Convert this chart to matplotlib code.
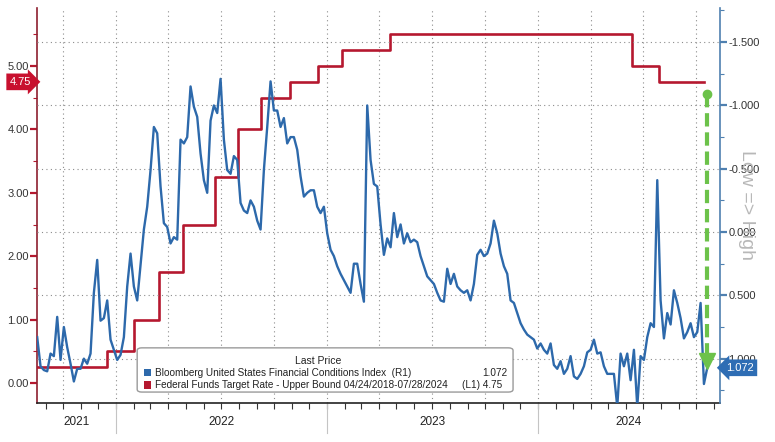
import numpy as np
import pandas as pd
import matplotlib
matplotlib.use('Agg')
import matplotlib.pyplot as plt
import matplotlib.dates as mdates
import matplotlib.transforms as mtransforms
from matplotlib.patches import FancyBboxPatch, Rectangle
from matplotlib.ticker import FixedLocator, MultipleLocator, NullFormatter, FormatStrFormatter

plt.rcParams['font.family'] = ['Liberation Sans', 'DejaVu Sans']

# Bloomberg US Financial Conditions Index (right axis, inverted), sampled off the chart
fci_dates = pd.date_range('2021-08-17', '2024-10-20', periods=202)
fci_2021 = [0.83, 1.06, 1.09, 1.10, 0.96, 0.98, 0.67, 1.01, 0.75, 0.91,
            1.04, 1.18, 1.08, 1.08, 1.00, 1.04, 0.96, 0.48, 0.22, 0.70,
            0.68, 0.54, 0.85, 0.93, 1.01, 0.97, 0.83, 0.43, 0.17, 0.43,
            0.54, 0.26, -0.02, -0.20, -0.49, -0.83, -0.78, -0.36, -0.07, -0.04,
            0.09, 0.04, 0.06, -0.73, -0.70, -0.75, -1.15, -0.99, -0.91]
fci_2022 = [-0.62, -0.41, -0.31, -0.88, -1.00, -0.94, -1.21, -0.73, -0.49, -0.46,
            -0.60, -0.57, -0.23, -0.17, -0.15, -0.25, -0.20, -0.09, -0.02, -0.49,
            -0.83, -1.19, -0.96, -0.96, -0.83, -0.90, -0.70, -0.75, -0.75, -0.65,
            -0.44, -0.28, -0.31, -0.33, -0.33, -0.20, -0.15, -0.20, 0.01, 0.14,
            0.19, 0.27, 0.33, 0.38, 0.43, 0.48, 0.25, 0.25, 0.41, 0.55,
            -1.00]
fci_2023 = [-0.57, -0.38, -0.36, -0.06, 0.18, 0.05, 0.12, -0.15, 0.04, -0.06,
            0.09, 0.01, 0.08, 0.06, 0.08, 0.19, 0.27, 0.35, 0.38, 0.41,
            0.48, 0.54, 0.55, 0.29, 0.41, 0.33, 0.43, 0.46, 0.48, 0.46,
            0.54, 0.41, 0.18, 0.14, 0.19, 0.17, 0.09, -0.09, 0.01, 0.17,
            0.27, 0.33, 0.54, 0.56, 0.64, 0.72, 0.77, 0.81, 0.83, 0.85,
            0.92]
fci_2024 = [0.88, 0.93, 0.96, 0.88, 1.05, 1.08, 1.02, 1.12, 1.08, 0.98,
            1.14, 1.16, 1.12, 1.06, 0.95, 0.93, 0.85, 0.96, 0.95, 1.06,
            1.12, 1.12, 1.12, 1.38, 0.96, 1.06, 0.96, 1.17, 0.93, 1.38,
            0.98, 1.01, 0.83, 0.72, 0.75, -0.41, 0.54, 0.84, 0.64, 0.73,
            0.46, 0.56, 0.68, 0.84, 0.79, 0.72, 0.83, 0.79, 0.56, 1.20,
            1.072]
fci_values = fci_2021 + fci_2022 + fci_2023 + fci_2024

# Fed funds target rate upper bound (left axis), step changes
fed_dates = pd.to_datetime(['2021-08-17', '2021-12-15', '2022-02-01', '2022-03-15',
                            '2022-04-26', '2022-06-21', '2022-07-30', '2022-09-08',
                            '2022-10-29', '2022-12-16', '2023-01-27', '2023-04-20',
                            '2024-06-11', '2024-07-29', '2024-10-15'])
fed_values = [0.25, 0.50, 1.00, 1.75, 2.50, 3.25, 4.00, 4.50, 4.75, 5.00, 5.25, 5.50,
              5.00, 4.75, 4.75]

years = [2021, 2022, 2023, 2024]
left_ticks = [0, 1, 2, 3, 4, 5]
right_ticks = [-1.5, -1.0, -0.5, 0.0, 0.5, 1.0]
arrow_date = pd.Timestamp('2024-10-19')
arrow_top = -1.09

BLUE = '#2d69ab'
RED = '#b5182f'
GREEN = '#6cc24a'
GRID = '#8c8c8c'
LEG_FS = 7.2

fig = plt.figure(figsize=(7.75, 4.42), dpi=100)
ax1 = fig.add_axes([0.048, 0.088, 0.881, 0.894])
ax2 = ax1.twinx()

xmin, xmax = pd.Timestamp('2021-08-17'), pd.Timestamp('2024-11-11')
ax1.set_xlim(xmin, xmax)
ax1.set_ylim(-0.315, 5.915)
ax2.set_ylim(1.351, -1.77)

ax1.step(fed_dates, fed_values, where='post', color=RED, lw=1.9, zorder=3)
ax2.plot(fci_dates, fci_values, color=BLUE, lw=1.7, zorder=3)

# grids
ax1.xaxis.set_major_locator(mdates.MonthLocator(bymonth=[1, 4, 7, 10]))
ax1.xaxis.set_minor_locator(mdates.MonthLocator())
ax1.xaxis.set_major_formatter(NullFormatter())
ax1.grid(axis='x', which='major', ls=(0, (1, 3)), color=GRID, lw=0.8)
ax2.grid(axis='y', which='major', ls=(0, (1, 3)), color=GRID, lw=0.8)
ax1.tick_params(axis='x', which='both', length=4, width=0.8, color='#333333', direction='out')

for s in ['top', 'right']:
    ax1.spines[s].set_visible(False)
for s in ['top', 'left', 'bottom']:
    ax2.spines[s].set_visible(False)
ax1.spines['left'].set_color('#8e1f2f')
ax1.spines['left'].set_linewidth(1.2)
ax1.spines['bottom'].set_color('#222222')
ax1.spines['bottom'].set_linewidth(1.2)
ax2.spines['right'].set_color('#4f80b0')
ax2.spines['right'].set_linewidth(1.2)

ax1.yaxis.set_major_locator(FixedLocator(left_ticks))
ax1.yaxis.set_minor_locator(MultipleLocator(0.5))
ax1.yaxis.set_major_formatter(FormatStrFormatter('%.2f'))
ax1.tick_params(axis='y', which='major', length=5, width=1.6, color=RED, labelsize=8, labelcolor='#333333', pad=1)
ax1.tick_params(axis='y', which='minor', length=3, width=0.8, color=RED)

ax2.yaxis.set_major_locator(FixedLocator(right_ticks))
ax2.yaxis.set_minor_locator(MultipleLocator(0.25))
ax2.yaxis.set_major_formatter(FormatStrFormatter('%.3f'))
ax2.tick_params(axis='y', which='major', length=5, width=1.6, color='#4f80b0', labelsize=8, labelcolor='#333333', pad=1)
ax2.tick_params(axis='y', which='minor', length=3, width=0.8, color='#4f80b0')

# year labels under the axis
trans = mtransforms.blended_transform_factory(ax1.transData, ax1.transAxes)
for yr in years[1:]:
    xd = mdates.date2num(pd.Timestamp(f'{yr}-01-01'))
    ax1.plot([xd, xd], [0, -0.075], transform=trans, color='#c4c4c4', lw=0.8, clip_on=False)
for yr in years:
    a = max(pd.Timestamp(f'{yr}-01-01'), xmin)
    b = min(pd.Timestamp(f'{yr + 1}-01-01'), xmax)
    mid = mdates.date2num(a) + (mdates.date2num(b) - mdates.date2num(a)) / 2
    ax1.text(mid, -0.048, str(yr), transform=trans, ha='center', va='center', fontsize=8.5, color='#222222')

# green arrow
ax2.plot([arrow_date, arrow_date], [arrow_top, 0.98], color=GREEN, lw=3, ls=(0, (3.2, 1.4)), zorder=5)
ax2.plot([arrow_date], [arrow_top], 'o', color=GREEN, ms=6, zorder=5)
ax2.plot([arrow_date], [1.02], marker='v', color=GREEN, ms=11, zorder=5)

# last value tags
tl = mtransforms.blended_transform_factory(ax1.transAxes, ax1.transData)
ax1.text(-0.009, fed_values[-1], '%.2f' % fed_values[-1], transform=tl, ha='right', va='center',
         color='white', fontsize=8, bbox=dict(boxstyle='rarrow,pad=0.3', fc='#c8102e', ec='none'))
tr = mtransforms.blended_transform_factory(ax2.transAxes, ax2.transData)
ax2.text(1.009, fci_values[-1], '%.3f' % fci_values[-1], transform=tr, ha='left', va='center',
         color='white', fontsize=8, bbox=dict(boxstyle='larrow,pad=0.3', fc='#2e6db4', ec='none'))

fig.text(0.963, 0.536, 'Low => High', rotation=270, ha='center', va='center', fontsize=14, color='#b8b8b8')

# legend box
box = FancyBboxPatch((0.177, 0.113), 0.485, 0.1, boxstyle='round,pad=0,rounding_size=0.006',
                     transform=fig.transFigure, fc='white', ec='#9a9a9a', lw=1, zorder=10)
fig.add_artist(box)
fig.text(0.41, 0.184, 'Last Price', ha='center', va='center', fontsize=LEG_FS + 0.3, color='#222222', zorder=11)
fig.add_artist(Rectangle((0.186, 0.149), 0.009, 0.016, fc=BLUE, ec='none', transform=fig.transFigure, zorder=11))
fig.add_artist(Rectangle((0.186, 0.121), 0.009, 0.016, fc='#b5182f', ec='none', transform=fig.transFigure, zorder=11))
fig.text(0.2, 0.157, 'Bloomberg United States Financial Conditions Index  (R1)', ha='left', va='center',
         fontsize=LEG_FS, color='#222222', zorder=11)
fig.text(0.655, 0.157, '1.072', ha='right', va='center', fontsize=LEG_FS, color='#222222', zorder=11)
fig.text(0.2, 0.129, 'Federal Funds Target Rate - Upper Bound 04/24/2018-07/28/2024', ha='left', va='center',
         fontsize=LEG_FS, color='#222222', zorder=11)
fig.text(0.648, 0.129, '(L1) 4.75', ha='right', va='center', fontsize=LEG_FS, color='#222222', zorder=11)

fig.savefig('out.png', dpi=100)
